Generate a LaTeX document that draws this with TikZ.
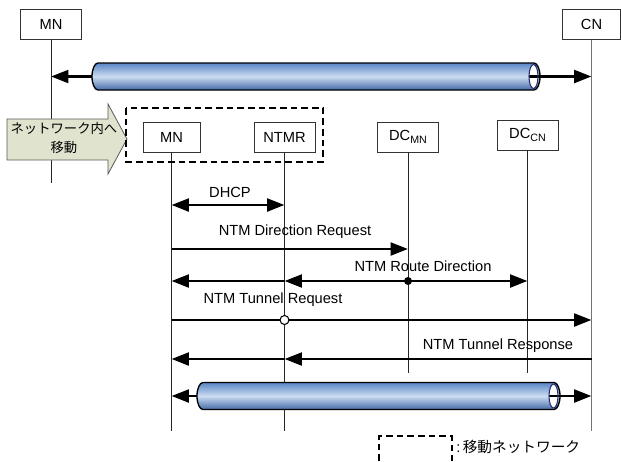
\documentclass[tikz,border=0pt]{standalone}
\usepackage{fontspec}
\setmainfont{Liberation Sans}
\newfontfamily\jpfont{Noto Sans CJK JP}
\usetikzlibrary{arrows.meta,positioning}

\definecolor{pipeTop}{RGB}{88,134,196}
\definecolor{pipeMid}{RGB}{205,220,242}
\definecolor{pipeBot}{RGB}{66,106,168}
\definecolor{pipeRim}{RGB}{40,45,110}
\definecolor{moveFill}{RGB}{224,228,206}

\tikzstyle{entity} = [draw=black!80, fill=white, line width=0.6pt, minimum height=23pt, inner sep=0pt, font=\fontsize{11}{13}\selectfont]
\tikzstyle{lifeline} = [line width=0.6pt, black!85]
\tikzstyle{msg} = [line width=2.2pt, ->]
\tikzstyle{msgtext} = [inner sep=0pt, font=\fontsize{11}{13}\selectfont]
\tikzstyle{netbox} = [line width=1.4pt, dash pattern=on 5pt off 3pt]

% horizontal tube: left x, right x, centre y
\newcommand{\pipe}[3]{%
	\shade[top color=pipeTop, bottom color=pipeBot, middle color=pipeMid, draw=black, line width=1pt]
		(#1+6,#3-13.5) -- (#2-6,#3-13.5) arc[start angle=-90, end angle=90, x radius=6, y radius=13.5]
		-- (#1+6,#3+13.5) arc[start angle=90, end angle=270, x radius=6, y radius=13.5] -- cycle;
	\fill[white] (#2-6.5,#3) ellipse[x radius=4.5, y radius=12];
	\draw[line width=2.2pt] (#2-11,#3) -- (#2,#3);
	\draw[pipeRim, line width=0.8pt] (#2-6.5,#3) ellipse[x radius=4.5, y radius=12];
}

\begin{document}
\begin{tikzpicture}[x=0.75pt, y=-0.75pt, >={Triangle[length=13pt,width=9.5pt]}]

	\useasboundingbox (0,0) rectangle (621,461);

	% nodes
	\node[entity, minimum width=45.75pt] (mnTop) at (51,24.5) {MN};
	\node[entity, minimum width=43.5pt] (cnTop) at (591.5,24.5) {CN};
	\node[entity, minimum width=42.75pt, minimum height=22.5pt] (mnBox) at (171.5,137) {MN};
	\node[entity, minimum width=45.75pt, minimum height=22.5pt] (ntmrBox) at (284.5,137) {NTMR};
	\node[entity, minimum width=45.75pt, minimum height=22.5pt] (dcmnBox) at (408,137)
		{DC\raisebox{-0.35ex}{\fontsize{8}{8}\selectfont MN}};
	\node[entity, minimum width=45.75pt, minimum height=22.5pt] (dccnBox) at (527.5,135)
		{DC\raisebox{-0.35ex}{\fontsize{8}{8}\selectfont CN}};

	% rows
	\coordinate (rowPipeA) at (0,76.5);
	\coordinate (endA) at (0,183);
	\coordinate (rowDhcp) at (0,205);
	\coordinate (rowDreq) at (0,249);
	\coordinate (rowRoute) at (0,281);
	\coordinate (rowTreq) at (0,320);
	\coordinate (rowTres) at (0,359);
	\coordinate (endDc) at (0,373);
	\coordinate (rowPipeB) at (0,396);
	\coordinate (endB) at (0,431);

	% lifelines
	\draw[lifeline] (mnTop) -- (mnTop |- endA);
	\draw[black!55, line width=1.1pt] (cnTop) -- (cnTop |- endB);
	\draw[lifeline] (mnBox) -- (mnBox |- endB);
	\draw[lifeline] (ntmrBox) -- (ntmrBox |- endB);
	\draw[lifeline] (dcmnBox) -- (dcmnBox |- endDc);
	\draw[lifeline] (dccnBox) -- (dccnBox |- endDc);

	% move into network
	\draw[fill=moveFill, draw=black!65, line width=0.6pt]
		(7,119) -- (108,119) -- (108,104) -- (127,139) -- (108,174) -- (108,160) -- (7,160) -- cycle;
	\node[align=center, inner sep=0pt, font=\jpfont\fontsize{10}{14}\selectfont] (moveText) at (64,138)
		{ネットワーク内へ\\移動};
	\draw[netbox] (126,108) rectangle (323,162);

	% tunnel MN - CN
	\draw[msg, <->] (mnTop |- rowPipeA) -- (cnTop |- rowPipeA);
	\pipe{92}{540}{76.5}

	% messages
	\draw[msg, <->] (mnBox |- rowDhcp) -- (ntmrBox |- rowDhcp);
	\node[msgtext] (lblDhcp) at (230,192) {DHCP};

	\draw[msg] (mnBox |- rowDreq) -- (dcmnBox |- rowDreq);
	\node[msgtext] (lblDreq) at (295,232) {NTM Direction Request};

	\draw[msg] (ntmrBox |- rowRoute) -- (mnBox |- rowRoute);
	\draw[msg] (dcmnBox |- rowRoute) -- (ntmrBox |- rowRoute);
	\draw[msg] (dcmnBox |- rowRoute) -- (dccnBox |- rowRoute);
	\fill (dcmnBox |- rowRoute) circle[radius=4];
	\node[msgtext] (lblRoute) at (423,266) {NTM Route Direction};

	\draw[msg] (mnBox |- rowTreq) -- (cnTop |- rowTreq);
	\filldraw[fill=white, draw=black, line width=0.8pt] (ntmrBox |- rowTreq) circle[radius=4.5];
	\node[msgtext] (lblTreq) at (273,300) {NTM Tunnel Request};

	\draw[msg] (cnTop |- rowTres) -- (ntmrBox |- rowTres);
	\draw[msg] (ntmrBox |- rowTres) -- (mnBox |- rowTres);
	\node[msgtext] (lblTres) at (498,346) {NTM Tunnel Response};

	% tunnel MN - CN after move
	\draw[msg, <->] (mnBox |- rowPipeB) -- (cnTop |- rowPipeB);
	\pipe{197}{560}{396}

	% legend
	\draw[netbox, line width=1.1pt] (379,461) -- (379,436) -- (452,436) -- (452,461);
	\node[anchor=west, inner sep=0pt, font=\fontsize{11}{13}\selectfont] (legendText) at (456,447)
		{:\,\jpfont 移動ネットワーク};

\end{tikzpicture}
\end{document}
